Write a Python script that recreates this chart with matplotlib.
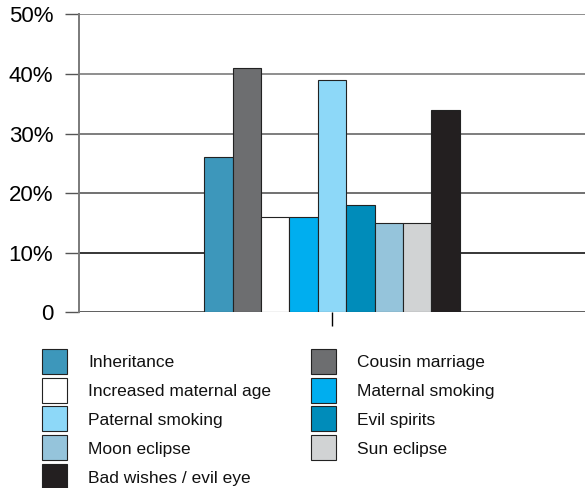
import matplotlib
matplotlib.use("Agg")
import matplotlib.pyplot as plt
from matplotlib.patches import Rectangle
from matplotlib.ticker import FixedLocator, FixedFormatter

plt.rcParams['font.family'] = ['Liberation Sans', 'DejaVu Sans']

# Reported beliefs about causes, share of respondents (%)
causes = [
    "Inheritance", "Cousin marriage", "Increased maternal age",
    "Maternal smoking", "Paternal smoking", "Evil spirits",
    "Moon eclipse", "Sun eclipse", "Bad wishes / evil eye",
]
shares = [26, 41, 16, 16, 39, 18, 15, 15, 34]
colors = [
    "#3d97bb", "#6d6e70", "#ffffff", "#00aeef", "#8dd8f8",
    "#008cba", "#95c4db", "#d1d3d4", "#231f20",
]
y_ticks = [0, 10, 20, 30, 40, 50]
y_tick_labels = ["0", "10%", "20%", "30%", "40%", "50%"]
grid_colors = ["#333333", "#000000", "#4a4a4a", "#5a5a5a", "#707070", "#707070"]

fig = plt.figure(figsize=(5.85, 4.88), dpi=100)
W, H = 585, 488
ax = fig.add_axes([79 / W, 1 - 312.3 / H, 1 - 79 / W, (312.3 - 14.3) / H])

n = len(shares)
bar_w = 0.0561
offsets = [(i - (n - 1) / 2) * bar_w for i in range(n)]
for off, val, col in zip(offsets, shares, colors):
    ax.bar(off, val, width=bar_w, color=col, edgecolor="#222222",
           linewidth=0.8, zorder=3)

ax.set_xlim(-0.5, 0.5)
ax.set_ylim(0, 50)
ax.yaxis.set_major_locator(FixedLocator(y_ticks))
ax.yaxis.set_major_formatter(FixedFormatter(y_tick_labels))
ax.set_xticks([0])
ax.set_xticklabels([""])
ax.tick_params(axis="x", direction="out", length=10, width=1.0, color="#000000")
ax.tick_params(axis="y", direction="out", length=10, width=1.0, color="#555555",
               labelsize=16, pad=8.5)

ax.grid(axis="y", zorder=0)
for gl, gc in zip(ax.yaxis.get_gridlines(), grid_colors):
    gl.set_color(gc)
    gl.set_linewidth(1.1)
for tl, gc in zip(ax.yaxis.get_ticklines(), grid_colors + grid_colors):
    tl.set_color(gc)

for s in ["top", "right", "bottom"]:
    ax.spines[s].set_visible(False)
ax.spines["left"].set_color("#7a7a7a")
ax.spines["left"].set_linewidth(1.4)
ax.spines["left"].set_zorder(1)
ax.set_axisbelow(True)

# Legend: two columns, filled row by row, in pixel coordinates
lax = fig.add_axes([0, 0, 1, 1])
lax.set_xlim(0, W)
lax.set_ylim(H, 0)
lax.axis("off")
sq = 25.0
x0, y0 = 41.8, 348.6
col_step, row_step = 269.2, 28.9
text_gap = 46.2
for i, (lab, col) in enumerate(zip(causes, colors)):
    r, c = divmod(i, 2)
    x = x0 + c * col_step
    y = y0 + r * row_step
    lax.add_patch(Rectangle((x, y), sq, sq, facecolor=col,
                            edgecolor="#222222", linewidth=0.8))
    lax.text(x + text_gap, y + sq / 2, lab, fontsize=12.5,
             va="center_baseline", ha="left", color="#111111")

fig.savefig("out.png", dpi=100)
